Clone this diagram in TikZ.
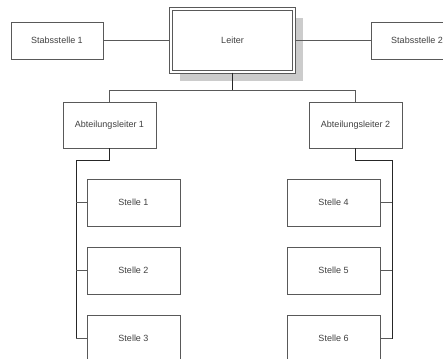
\documentclass[tikz,border=0pt]{standalone}
\usepackage{fontspec}
\setmainfont{Liberation Sans}
\usetikzlibrary{shadows}

\begin{document}
\begin{tikzpicture}
[x=1pt,y=-1pt,
 box/.style={draw=black!65,line width=0.9pt,fill=white,text=black!75,
   font=\fontsize{9}{11}\selectfont,minimum width=93pt,minimum height=47pt,inner sep=0pt},
 stab/.style={box,minimum width=92pt,minimum height=37pt},
 chef/.style={box,minimum width=123pt,minimum height=63pt,double=white,
   double distance=1.1pt,line width=1.2pt,
   drop shadow={shadow xshift=9pt,shadow yshift=-9pt,fill=black!20,opacity=1}},
 line/.style={draw=black!65,line width=0.9pt},
 bus/.style={draw=black!85,line width=1pt}]
\clip (0,0) rectangle (443,358);
\fill[white] (0,0) rectangle (443,358);

% Leitung und Stabsstellen
\node[chef] (leiter) at (232.5,40.5) {Leiter};
\node[stab] (stab1) at (57,40.5) {Stabsstelle 1};
\node[stab] (stab2) at (417,40.5) {Stabsstelle 2};
\draw[line] (stab1) -- (leiter);
\draw[line] (leiter) -- (stab2);

% Abteilungen
\node[box,minimum height=46pt] (abt1) at (109.5,125) {Abteilungsleiter 1};
\node[box,minimum height=46pt] (abt2) at (355.5,125) {Abteilungsleiter 2};
\coordinate (fork) at (232.5,90);
\draw[bus] (leiter) -- (fork);
\draw[line] (fork) -| (abt1.north);
\draw[line] (fork) -| (abt2.north);

% Stellen
\foreach \i/\y in {1/202.5,2/270.5,3/338.5}
  \node[box] (stelle\i) at (133.5,\y) {Stelle \i};
\foreach \i/\y in {4/202.5,5/270.5,6/338.5}
  \node[box] (stelle\i) at (333.5,\y) {Stelle \i};

\coordinate (bus1) at (76,160);
\coordinate (bus2) at (392,160);
\draw[bus] (abt1.south) |- (bus1) -- (bus1 |- stelle3.west);
\draw[bus] (abt2.south) |- (bus2) -- (bus2 |- stelle6.east);
\foreach \i in {1,2,3}
  \draw[line] (bus1 |- stelle\i.west) -- (stelle\i.west);
\foreach \i in {4,5,6}
  \draw[line] (bus2 |- stelle\i.east) -- (stelle\i.east);
\end{tikzpicture}
\end{document}
